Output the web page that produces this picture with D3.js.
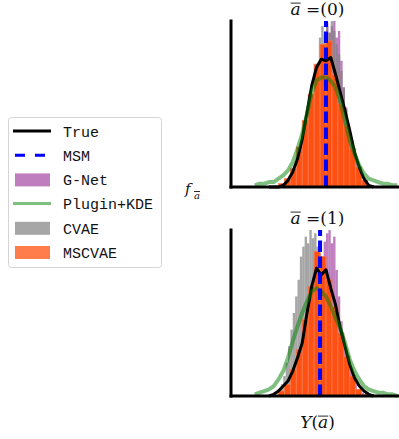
<!DOCTYPE html>
<html>
<head>
<meta charset="utf-8">
<script src="https://cdn.jsdelivr.net/npm/d3@7"></script>
<style>
  html, body { margin: 0; padding: 0; background: #fff; }
  svg { display: block; }
</style>
</head>
<body>
<svg id="chart" width="399" height="439"></svg>
<script>
// ---- data (density, scaled so the tallest bar = 1) ----
const trueGrid = [-2.4, -2.2, -2.0, -1.8, -1.6, -1.4, -1.2, -1.0, -0.8, -0.6, -0.4, -0.2,
  0, 0.2, 0.4, 0.6, 0.8, 1.0, 1.2, 1.4, 1.6, 1.8, 2.0];
const trueTop = [0, 0, 0, 0.01, 0.04, 0.09, 0.17, 0.29, 0.45, 0.61, 0.72, 0.77,
  0.76, 0.78, 0.68, 0.57, 0.46, 0.34, 0.21, 0.12, 0.05, 0.01, 0];
const trueBottom = [0, 0.01, 0.03, 0.06, 0.09, 0.15, 0.23, 0.32, 0.5, 0.66, 0.77, 0.73,
  0.76, 0.65, 0.55, 0.41, 0.3, 0.19, 0.11, 0.06, 0.03, 0.01, 0];

const kdeGrid = [-3.0, -2.8, -2.6, -2.4, -2.2, -2.0, -1.8, -1.6, -1.4, -1.2, -1.0, -0.8, -0.6, -0.4, -0.2,
  0, 0.2, 0.4, 0.6, 0.8, 1.0, 1.2, 1.4, 1.6, 1.8, 2.0, 2.2, 2.4, 2.6, 2.8, 3.0];
const kdeTop = [0.01, 0.02, 0.02, 0.03, 0.03, 0.05, 0.07, 0.1, 0.15, 0.23, 0.32, 0.44, 0.57, 0.64, 0.66,
  0.66, 0.64, 0.6, 0.52, 0.4, 0.28, 0.2, 0.13, 0.08, 0.05, 0.04, 0.03, 0.02, 0.02, 0.01, 0.01];
const kdeBottom = [0.01, 0.02, 0.03, 0.04, 0.06, 0.1, 0.15, 0.23, 0.33, 0.42, 0.5, 0.57, 0.63, 0.65, 0.63,
  0.6, 0.54, 0.47, 0.41, 0.32, 0.22, 0.15, 0.1, 0.06, 0.04, 0.03, 0.02, 0.02, 0.01, 0.01, 0];

const fineBins = [-1.95, -1.85, -1.75, -1.65, -1.55, -1.45, -1.35, -1.25, -1.15, -1.05,
  -0.95, -0.85, -0.75, -0.65, -0.55, -0.45, -0.35, -0.25, -0.15, -0.05,
  0.05, 0.15, 0.25, 0.35, 0.45, 0.55, 0.65, 0.75, 0.85, 0.95,
  1.05, 1.15, 1.25, 1.35, 1.45, 1.55, 1.65, 1.75, 1.85, 1.95];
const gnetTop = [0, 0, 0, 0.01, 0.02, 0.03, 0.05, 0.07, 0.1, 0.14,
  0.19, 0.25, 0.31, 0.38, 0.45, 0.53, 0.61, 0.7, 0.78, 0.86,
  0.99, 0.93, 0.97, 1.0, 0.9, 0.94, 0.76, 0.6, 0.48, 0.38,
  0.3, 0.22, 0.15, 0.1, 0.07, 0.04, 0.02, 0.01, 0, 0];
const gnetBottom = [0, 0, 0.01, 0.01, 0.02, 0.03, 0.04, 0.06, 0.08, 0.11,
  0.15, 0.2, 0.26, 0.33, 0.41, 0.5, 0.6, 0.72, 0.8, 0.93,
  0.98, 1.0, 0.92, 0.96, 0.76, 0.6, 0.45, 0.36, 0.28, 0.21,
  0.15, 0.1, 0.07, 0.04, 0.03, 0.02, 0.01, 0, 0, 0];
const cvaeTop = [0, 0, 0.01, 0.02, 0.03, 0.05, 0.07, 0.1, 0.14, 0.19,
  0.25, 0.31, 0.38, 0.46, 0.53, 0.62, 0.72, 0.9, 0.97, 0.92,
  0.97, 0.93, 1.0, 0.94, 0.86, 0.8, 0.7, 0.6, 0.47, 0.36,
  0.26, 0.19, 0.13, 0.09, 0.06, 0.04, 0.02, 0.01, 0, 0];
const cvaeBottom = [0.04, 0.07, 0.12, 0.2, 0.3, 0.4, 0.5, 0.6, 0.7, 0.84,
  0.9, 0.96, 0.92, 1.0, 0.95, 0.98, 0.9, 0.86, 0.8, 0.72,
  0.62, 0.52, 0.44, 0.36, 0.28, 0.22, 0.16, 0.11, 0.07, 0.05,
  0.03, 0.02, 0.01, 0.01, 0, 0, 0, 0, 0, 0];

const coarseBins = [-1.875, -1.625, -1.375, -1.125, -0.875, -0.625, -0.375, -0.125,
  0.125, 0.375, 0.625, 0.875, 1.125, 1.375, 1.625, 1.875];
const mscvaeTop = [0.02, 0.05, 0.11, 0.24, 0.4, 0.56, 0.74, 0.86,
  0.88, 0.68, 0.5, 0.37, 0.23, 0.12, 0.04, 0.01];
const mscvaeBottom = [0.03, 0.07, 0.16, 0.28, 0.46, 0.66, 0.87, 0.84,
  0.7, 0.54, 0.38, 0.24, 0.12, 0.04, 0.01, 0];

const msmMeans = [0, -0.25];
const panelLabels = ["=(0)", "=(1)"];
const legendLabels = ["True", "MSM", "G-Net", "Plugin+KDE", "CVAE", "MSCVAE"];

// ---- drawing ----
const serif = "'DejaVu Serif', 'Liberation Serif', serif";
const svg = d3.select("#chart");
const x = d3.scaleLinear().domain([-4, 4]).range([231, 421]);

const panels = [
  { top: 21, bottom: 187, tru: trueTop, kde: kdeTop, gnet: gnetTop, cvae: cvaeTop, mscvae: mscvaeTop },
  { top: 230, bottom: 396, tru: trueBottom, kde: kdeBottom, gnet: gnetBottom, cvae: cvaeBottom, mscvae: mscvaeBottom }
];

function hist(g, y, centers, values, w, fill, opacity, stroke) {
  g.append("g").selectAll("rect").data(values).enter().append("rect")
    .attr("x", (d, i) => x(centers[i] - w / 2))
    .attr("width", (d, i) => x(centers[i] + w / 2) - x(centers[i] - w / 2))
    .attr("y", d => y(d))
    .attr("height", d => y(0) - y(d))
    .attr("fill", fill)
    .attr("fill-opacity", opacity)
    .attr("stroke", stroke || "none")
    .attr("stroke-width", stroke ? 0.8 : 0);
}

// text with an italic a that carries an overline
function mathText(parent, cx, baseline, size, parts) {
  const t = parent.append("text").attr("y", baseline)
    .attr("font-family", serif).attr("font-size", size).attr("fill", "#111");
  parts.forEach(p => t.append("tspan").attr("font-style", p.it ? "italic" : "normal").text(p.s));
  const w = t.node().getComputedTextLength();
  t.attr("x", cx - w / 2);
  let idx = 0;
  parts.forEach(p => {
    if (p.bar) {
      const a = t.node().getStartPositionOfChar(idx).x;
      const b = t.node().getEndPositionOfChar(idx + p.s.length - 1).x;
      parent.append("line")
        .attr("x1", a).attr("x2", b)
        .attr("y1", baseline - size * 0.7).attr("y2", baseline - size * 0.7)
        .attr("stroke", "#111").attr("stroke-width", 0.9);
    }
    idx += p.s.length;
  });
}

panels.forEach((p, k) => {
  const y = d3.scaleLinear().domain([0, 1]).range([p.bottom, p.top]);
  const g = svg.append("g");

  hist(g, y, fineBins, p.gnet, 0.1, "#800080", 0.5);
  hist(g, y, fineBins, p.cvae, 0.1, "#808080", 0.7);
  hist(g, y, coarseBins, p.mscvae, 0.25, "#ff5014", 1, "#f57a4c");

  const line = d3.line().x(d => x(d[0])).y(d => y(d[1]));

  g.append("path")
    .datum(trueGrid.map((v, i) => [v, p.tru[i]]))
    .attr("d", line).attr("fill", "none")
    .attr("stroke", "#000").attr("stroke-width", 3).attr("stroke-linejoin", "round");

  g.append("path")
    .datum(kdeGrid.map((v, i) => [v, p.kde[i]]))
    .attr("d", line).attr("fill", "none")
    .attr("stroke", "#008000").attr("stroke-opacity", 0.5).attr("stroke-width", 4)
    .attr("stroke-linejoin", "round");

  g.append("line")
    .attr("x1", x(msmMeans[k])).attr("x2", x(msmMeans[k]))
    .attr("y1", y(0)).attr("y2", y(1))
    .attr("stroke", "#0000ff").attr("stroke-width", 4)
    .attr("stroke-dasharray", "11.5,4.5");

  // spines (left and bottom only)
  g.append("line").attr("x1", 231).attr("x2", 231).attr("y1", p.top).attr("y2", p.bottom)
    .attr("stroke", "#000").attr("stroke-width", 3).attr("stroke-linecap", "square");
  g.append("line").attr("x1", 231).attr("x2", 404).attr("y1", p.bottom).attr("y2", p.bottom)
    .attr("stroke", "#000").attr("stroke-width", 3).attr("stroke-linecap", "square");

  mathText(svg, 317.5, k === 0 ? 15 : 224, 17,
    [{ s: "a", it: true, bar: true }, { s: " " + panelLabels[k] }]);
});

// y label f_a
svg.append("text").attr("x", 185).attr("y", 194).attr("font-family", serif)
  .attr("font-style", "italic").attr("font-size", 15).attr("fill", "#111").text("f");
mathText(svg, 197, 198.5, 10, [{ s: "a", it: true, bar: true }]);

// x label
mathText(svg, 317.5, 428, 17,
  [{ s: "Y", it: true }, { s: "(" }, { s: "a", it: true, bar: true }, { s: ")" }]);

// ---- legend ----
const leg = svg.append("g");
leg.append("rect").attr("x", 8.5).attr("y", 117.5).attr("width", 153).attr("height", 150)
  .attr("rx", 3).attr("fill", "#fff").attr("fill-opacity", 0.8)
  .attr("stroke", "#d4d4d4").attr("stroke-width", 1);

const handles = [
  { type: "line", color: "#000", width: 3 },
  { type: "line", color: "#0000ff", width: 3, dash: "10,10" },
  { type: "patch", color: "#800080", opacity: 0.5 },
  { type: "line", color: "#008000", width: 3, opacity: 0.5 },
  { type: "patch", color: "#808080", opacity: 0.7 },
  { type: "patch", color: "#ff4500", opacity: 0.7 }
];

legendLabels.forEach((label, i) => {
  const cy = 131.5 + i * 24.2;
  const h = handles[i];
  if (h.type === "line") {
    leg.append("line").attr("x1", 13).attr("x2", 51).attr("y1", cy - 0.5).attr("y2", cy - 0.5)
      .attr("stroke", h.color).attr("stroke-width", h.width)
      .attr("stroke-opacity", h.opacity || 1)
      .attr("stroke-dasharray", h.dash ? h.dash : null)
      .attr("stroke-dashoffset", h.dash ? -2 : null);
  } else {
    leg.append("rect").attr("x", 15).attr("y", cy - 6.5).attr("width", 35).attr("height", 13)
      .attr("fill", h.color).attr("fill-opacity", h.opacity);
  }
  leg.append("text").attr("x", 63).attr("y", cy + 5.3)
    .attr("font-family", "'Liberation Mono', 'DejaVu Sans Mono', monospace")
    .attr("font-size", 15).attr("fill", "#111").text(label);
});
</script>
</body>
</html>
